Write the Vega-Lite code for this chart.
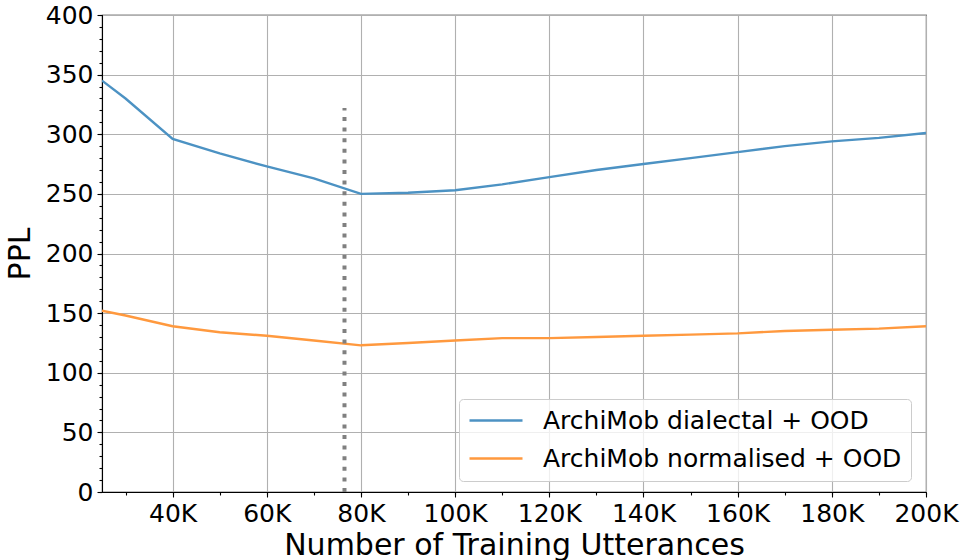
{
  "$schema": "https://vega.github.io/schema/vega-lite/v6.json",
  "width": 824,
  "height": 477,
  "autosize": "none",
  "padding": {"left": 102, "top": 15, "right": 37, "bottom": 68},
  "background": "white",
  "config": {
    "view": {"stroke": "black", "strokeWidth": 1.1},
    "font": "DejaVu Sans",
    "axis": {
      "labelFont": "DejaVu Sans",
      "labelFontSize": 25,
      "labelColor": "black",
      "titleFont": "DejaVu Sans",
      "titleFontSize": 30,
      "titleFontWeight": "normal",
      "titleColor": "black",
      "tickColor": "black",
      "domainColor": "black",
      "domainWidth": 1.1,
      "tickWidth": 1.1,
      "gridColor": "#b0b0b0",
      "gridWidth": 1.1
    }
  },
  "datasets": {
    "ppl": [
      {"utterances": 25000, "ppl": 345, "model": "ArchiMob dialectal + OOD"},
      {"utterances": 30000, "ppl": 330, "model": "ArchiMob dialectal + OOD"},
      {"utterances": 40000, "ppl": 296, "model": "ArchiMob dialectal + OOD"},
      {"utterances": 50000, "ppl": 284, "model": "ArchiMob dialectal + OOD"},
      {"utterances": 60000, "ppl": 273, "model": "ArchiMob dialectal + OOD"},
      {"utterances": 70000, "ppl": 263, "model": "ArchiMob dialectal + OOD"},
      {"utterances": 80000, "ppl": 250, "model": "ArchiMob dialectal + OOD"},
      {"utterances": 90000, "ppl": 251, "model": "ArchiMob dialectal + OOD"},
      {"utterances": 100000, "ppl": 253, "model": "ArchiMob dialectal + OOD"},
      {"utterances": 110000, "ppl": 258, "model": "ArchiMob dialectal + OOD"},
      {"utterances": 120000, "ppl": 264, "model": "ArchiMob dialectal + OOD"},
      {"utterances": 130000, "ppl": 270, "model": "ArchiMob dialectal + OOD"},
      {"utterances": 140000, "ppl": 275, "model": "ArchiMob dialectal + OOD"},
      {"utterances": 150000, "ppl": 280, "model": "ArchiMob dialectal + OOD"},
      {"utterances": 160000, "ppl": 285, "model": "ArchiMob dialectal + OOD"},
      {"utterances": 170000, "ppl": 290, "model": "ArchiMob dialectal + OOD"},
      {"utterances": 180000, "ppl": 294, "model": "ArchiMob dialectal + OOD"},
      {"utterances": 190000, "ppl": 297, "model": "ArchiMob dialectal + OOD"},
      {"utterances": 200000, "ppl": 301, "model": "ArchiMob dialectal + OOD"},
      {"utterances": 25000, "ppl": 152, "model": "ArchiMob normalised + OOD"},
      {"utterances": 30000, "ppl": 148, "model": "ArchiMob normalised + OOD"},
      {"utterances": 40000, "ppl": 139, "model": "ArchiMob normalised + OOD"},
      {"utterances": 50000, "ppl": 134, "model": "ArchiMob normalised + OOD"},
      {"utterances": 60000, "ppl": 131, "model": "ArchiMob normalised + OOD"},
      {"utterances": 70000, "ppl": 127, "model": "ArchiMob normalised + OOD"},
      {"utterances": 80000, "ppl": 123, "model": "ArchiMob normalised + OOD"},
      {"utterances": 90000, "ppl": 125, "model": "ArchiMob normalised + OOD"},
      {"utterances": 100000, "ppl": 127, "model": "ArchiMob normalised + OOD"},
      {"utterances": 110000, "ppl": 129, "model": "ArchiMob normalised + OOD"},
      {"utterances": 120000, "ppl": 129, "model": "ArchiMob normalised + OOD"},
      {"utterances": 130000, "ppl": 130, "model": "ArchiMob normalised + OOD"},
      {"utterances": 140000, "ppl": 131, "model": "ArchiMob normalised + OOD"},
      {"utterances": 150000, "ppl": 132, "model": "ArchiMob normalised + OOD"},
      {"utterances": 160000, "ppl": 133, "model": "ArchiMob normalised + OOD"},
      {"utterances": 170000, "ppl": 135, "model": "ArchiMob normalised + OOD"},
      {"utterances": 180000, "ppl": 136, "model": "ArchiMob normalised + OOD"},
      {"utterances": 190000, "ppl": 137, "model": "ArchiMob normalised + OOD"},
      {"utterances": 200000, "ppl": 139, "model": "ArchiMob normalised + OOD"}
    ],
    "cut": [{"utterances": 76500, "ppl_low": 0, "ppl_high": 322}]
  },
  "layer": [
    {
      "data": {"name": "ppl"},
      "mark": {"type": "line", "strokeWidth": 2.4, "clip": true},
      "encoding": {
        "x": {
          "field": "utterances",
          "type": "quantitative",
          "scale": {"domain": [25000, 200000], "nice": false, "zero": false},
          "axis": {
            "orient": "bottom",
            "title": "Number of Training Utterances",
            "values": [40000, 60000, 80000, 100000, 120000, 140000, 160000, 180000, 200000],
            "labelExpr": "(datum.value / 1000) + 'K'",
            "tickSize": 5,
            "labelPadding": 4,
            "titlePadding": 4,
            "grid": true,
            "labelFlush": false,
            "labelOverlap": false
          }
        },
        "y": {
          "field": "ppl",
          "type": "quantitative",
          "scale": {"domain": [0, 400], "nice": false},
          "axis": {
            "orient": "left",
            "title": "PPL",
            "values": [0, 50, 100, 150, 200, 250, 300, 350, 400],
            "tickSize": 5,
            "labelPadding": 4,
            "titlePadding": 10,
            "grid": true,
            "labelFlush": false,
            "labelOverlap": false
          }
        },
        "color": {
          "field": "model",
          "type": "nominal",
          "scale": {
            "domain": ["ArchiMob dialectal + OOD", "ArchiMob normalised + OOD"],
            "range": ["#4c92c3", "#ff993e"]
          },
          "legend": {
            "title": null,
            "orient": "none",
            "legendX": 357,
            "legendY": 384,
            "symbolType": "stroke",
            "symbolSize": 2809,
            "symbolStrokeWidth": 2.4,
            "clipHeight": 25,
            "labelLimit": 0,
            "labelFont": "DejaVu Sans",
            "labelFontSize": 25,
            "labelColor": "black",
            "labelOffset": 19,
            "padding": 9,
            "rowPadding": 12,
            "fillColor": "rgba(255,255,255,0.8)",
            "strokeColor": "#cccccc",
            "cornerRadius": 4
          }
        }
      }
    },
    {
      "data": {"name": "cut"},
      "mark": {"type": "rule", "color": "#808080", "strokeWidth": 4, "strokeDash": [4, 6.6], "strokeCap": "butt"},
      "encoding": {
        "x": {
          "field": "utterances",
          "type": "quantitative",
          "axis": {
            "orient": "bottom",
            "title": null,
            "values": [30000, 40000, 50000, 60000, 70000, 80000, 90000, 100000, 110000, 120000, 130000, 140000, 150000, 160000, 170000, 180000, 190000, 200000],
            "labels": false,
            "grid": false,
            "domain": false,
            "tickSize": 3
          }
        },
        "y": {
          "field": "ppl_low",
          "type": "quantitative",
          "axis": {
            "orient": "left",
            "title": null,
            "values": [0, 10, 20, 30, 40, 50, 60, 70, 80, 90, 100, 110, 120, 130, 140, 150, 160, 170, 180, 190, 200, 210, 220, 230, 240, 250, 260, 270, 280, 290, 300, 310, 320, 330, 340, 350, 360, 370, 380, 390, 400],
            "labels": false,
            "grid": false,
            "domain": false,
            "tickSize": 3
          }
        },
        "y2": {"field": "ppl_high"}
      }
    }
  ],
  "resolve": {"axis": {"x": "independent", "y": "independent"}}
}
